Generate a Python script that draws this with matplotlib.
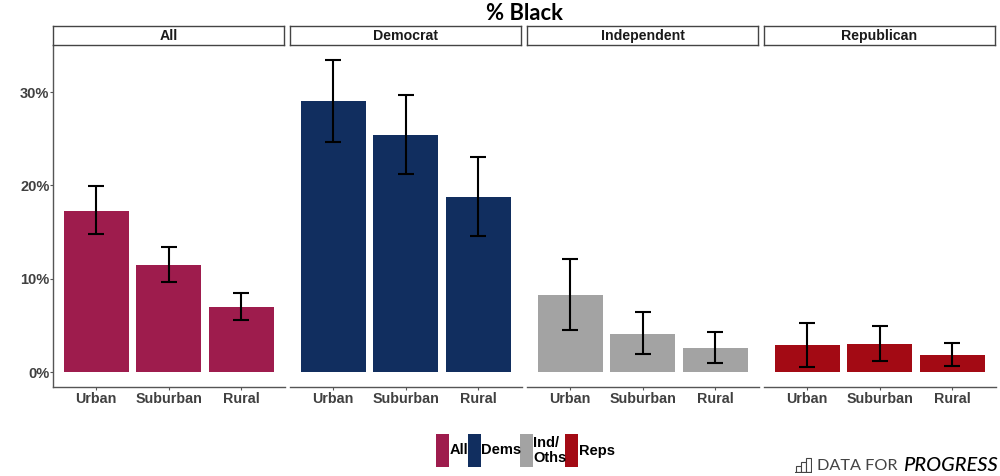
import matplotlib
matplotlib.use("Agg")
import matplotlib.pyplot as plt
from matplotlib.patches import Rectangle

panels = ["All", "Democrat", "Independent", "Republican"]
areas = ["Urban", "Suburban", "Rural"]
values = {
    "All": [17.3, 11.5, 7.0],
    "Democrat": [29.0, 25.4, 18.8],
    "Independent": [8.3, 4.1, 2.6],
    "Republican": [2.9, 3.0, 1.8],
}
lower = {
    "All": [14.8, 9.6, 5.6],
    "Democrat": [24.6, 21.2, 14.6],
    "Independent": [4.5, 1.9, 1.0],
    "Republican": [0.5, 1.2, 0.6],
}
upper = {
    "All": [19.9, 13.4, 8.5],
    "Democrat": [33.4, 29.7, 23.0],
    "Independent": [12.1, 6.4, 4.3],
    "Republican": [5.3, 4.9, 3.1],
}
colors = {"All": "#9E1C4D", "Democrat": "#112E5F", "Independent": "#A3A3A3", "Republican": "#A30A14"}
legend_labels = ["All", "Dems", "Ind/\nOths", "Reps"]
yticks = [0, 10, 20, 30]

W, H = 1000, 476
plt.rcParams["font.family"] = ["Liberation Sans", "DejaVu Sans"]
fig = plt.figure(figsize=(W / 100, H / 100), dpi=100, facecolor="white")

def box(x0, y0, x1, y1):
    return [x0 / W, 1 - y1 / H, (x1 - x0) / W, (y1 - y0) / H]

lefts = [52.7, 289.7, 526.7, 763.7]
pw = 232
strip_w = 231.6
top, bottom = 44.5, 387

for i, p in enumerate(panels):
    ax = fig.add_axes(box(lefts[i], top, lefts[i] + pw, bottom))
    xs = [1, 2, 3]
    ax.bar(xs, values[p], width=0.9, color=colors[p], zorder=2)
    err = [[v - l for v, l in zip(values[p], lower[p])],
           [u - v for v, u in zip(values[p], upper[p])]]
    ax.errorbar(xs, values[p], yerr=err, fmt="none", ecolor="black", elinewidth=1.5,
                capsize=5.8, capthick=1.5, zorder=3)
    ax.set_xlim(0.4, 3.6)
    ax.set_ylim(-1.6, 35.1)
    ax.set_xticks(xs)
    ax.set_xticklabels(areas, fontsize=10.3, fontweight="bold", color="#404040")
    ax.tick_params(axis="x", length=2, width=0.8, color="#555555", pad=1.5)
    for s in ["top", "right"]:
        ax.spines[s].set_visible(False)
    ax.spines["bottom"].set_color("#555555")
    ax.spines["bottom"].set_linewidth(1.0)
    if i == 0:
        ax.set_yticks(yticks)
        ax.set_yticklabels([f"{t}%" for t in yticks], fontsize=10.5, fontweight="bold", color="#404040")
        ax.tick_params(axis="y", length=2, width=0.8, color="#555555", pad=0.3)
        ax.spines["left"].set_color("#555555")
        ax.spines["left"].set_linewidth(1.0)
    else:
        ax.set_yticks([])
        ax.spines["left"].set_visible(False)
    # facet strip
    st = fig.add_axes(box(lefts[i], 26, lefts[i] + strip_w, 44.5))
    st.set_xticks([])
    st.set_yticks([])
    for s in st.spines.values():
        s.set_color("#444444")
        s.set_linewidth(1.0)
    st.text(0.5, 0.47, p, ha="center", va="center", transform=st.transAxes,
            fontsize=10.2, fontweight="bold", color="#1a1a1a")

fig.text(525 / W, 1 - 13 / H, "% Black", ha="center", va="center", fontsize=15.8,
         fontweight="bold", family=["Lato", "DejaVu Sans"], color="black")

# legend
leg_x = [436, 468, 520, 565]
leg_text_x = [450, 481.5, 533, 579]
leg_cols = [colors[p] for p in panels]
for x, tx, lab, c in zip(leg_x, leg_text_x, legend_labels, leg_cols):
    fig.add_artist(Rectangle((x / W, 1 - 466.5 / H), 13 / W, 33 / H, transform=fig.transFigure,
                             facecolor=c, edgecolor="none"))
    fig.text(tx / W, 1 - 450.5 / H, lab, ha="left", va="center", fontsize=10.5,
             fontweight="bold", color="black", linespacing=1.1)

# logo
ax_logo = fig.add_axes(box(795, 456, 812, 473))
ax_logo.set_axis_off()
ax_logo.set_xlim(0, 17)
ax_logo.set_ylim(0, 17)
for x, h in zip([1, 6, 11], [6, 10, 14]):
    ax_logo.add_patch(Rectangle((x, 1), 5, h, facecolor="white", edgecolor="#444444", linewidth=0.8))
ax_logo.plot([0, 17], [1, 1], color="#444444", lw=0.8)
fig.text(817 / W, 1 - 465.5 / H, "DATA FOR", ha="left", va="center", fontsize=11.7,
         family=["Lato", "DejaVu Sans"], fontweight="normal", color="#444444")
fig.text(903 / W, 1 - 465.5 / H, "PROGRESS", ha="left", va="center", fontsize=14.4,
         family=["Lato", "DejaVu Sans"], style="italic", fontweight="medium", color="black")

fig.savefig("out.png", dpi=100, facecolor="white")
